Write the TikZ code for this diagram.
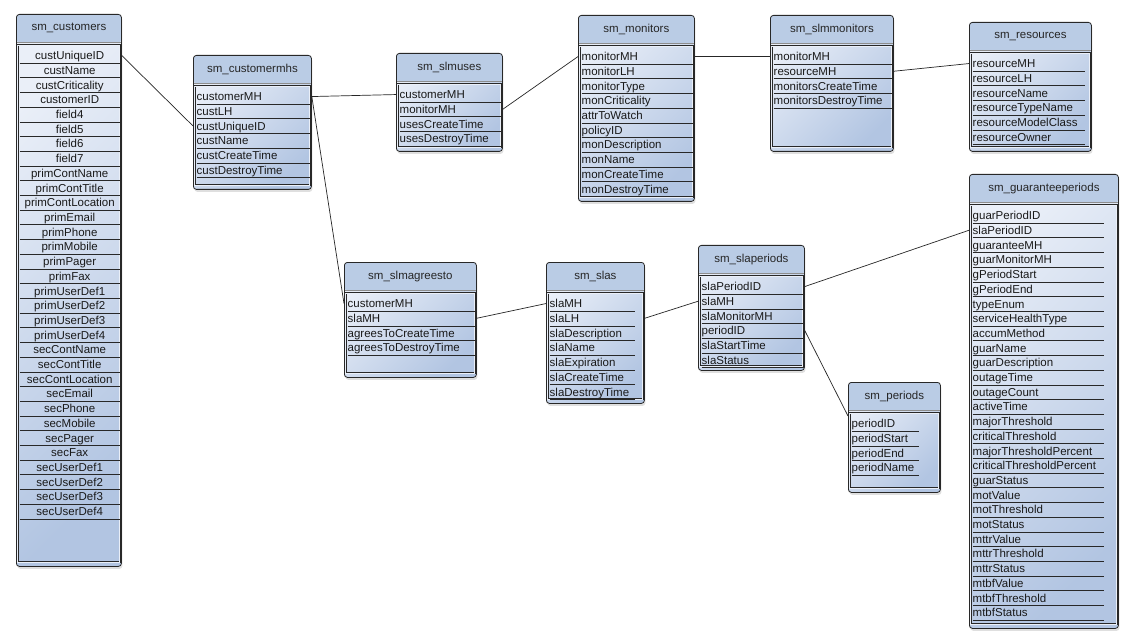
\documentclass[tikz,border=0pt]{standalone}
\usepackage{fontspec}
\setmainfont{Liberation Sans}
\usepackage{tikz}
\usetikzlibrary{shadows}
\usepackage{xcolor}
\definecolor{tabhead}{RGB}{186,204,229}
\definecolor{tabtop}{RGB}{234,239,248}
\definecolor{tabbottom}{RGB}{178,197,226}
\definecolor{tabline}{RGB}{40,40,40}
\tikzstyle{tablebox} = [rectangle, rounded corners=3pt, draw=tabline, line width=0.8pt, shading=axis, top color=tabtop, bottom color=tabbottom, shading angle=45, drop shadow={opacity=0.25, shadow xshift=1pt, shadow yshift=-2.5pt}, path picture={\fill[tabhead] (path picture bounding box.north west) rectangle ([yshift=-28pt]path picture bounding box.north east); \draw[black!45] ([yshift=-28pt]path picture bounding box.north west) -- ([yshift=-28pt]path picture bounding box.north east);}]
\tikzstyle{tablehead} = [rectangle, inner sep=0pt, minimum height=28pt, text=black!85, font=\fontsize{11.5}{13}\selectfont]
\tikzstyle{tablebody} = [rectangle, inner sep=0pt, draw=tabline, line width=0.5pt, double=tabtop, double distance=0.6pt]
\tikzstyle{field} = [rectangle, inner sep=0pt, minimum height=14.7pt, text height=9.5pt, text depth=1pt, anchor=north west, text=black!90, font=\fontsize{11.5}{13}\selectfont]
\tikzstyle{rowline} = [line width=0.6pt, color=tabline]
\tikzstyle{link} = [line width=0.7pt, color=black!85]

% name, top left, width, height, row width, title, alignment, rows
\newcommand{\sqltable}[8]{%
  \node (#1) [tablebox, minimum width=#3pt, minimum height=#4pt, anchor=north west] at (#2) {};
  \node (#1-head) [tablehead, minimum width=#3pt, anchor=north] at (#1.north) {#6};
  \node (#1-body) [tablebody, minimum width=#3pt-3pt, minimum height=#4pt-35pt, anchor=north west] at ([xshift=1.5pt, yshift=-31pt]#1.north west) {};
  \foreach \f [count=\i] in {#8} {
    \node (#1-\i) [field, text width=#5pt, align=#7] at ([xshift=2pt, yshift={-3pt-(\i-1)*14.7pt}]#1-body.north west) {\f};
    \draw[rowline] (#1-\i.south west) -- (#1-\i.south east);
  }%
}

\begin{document}
\begin{tikzpicture}[x=1pt, y=-1pt]
\path[use as bounding box, fill=white] (0,0) rectangle (1134,644);

% Customer side
\sqltable{cu}{16,14}{105}{552}{100}{sm\_customers}{center}{custUniqueID, custName, custCriticality, customerID, field4, field5, field6, field7, primContName, primContTitle, primContLocation, primEmail, primPhone, primMobile, primPager, primFax, primUserDef1, primUserDef2, primUserDef3, primUserDef4, secContName, secContTitle, secContLocation, secEmail, secPhone, secMobile, secPager, secFax, secUserDef1, secUserDef2, secUserDef3, secUserDef4}
\sqltable{cm}{193,55}{118}{134}{114}{sm\_customermhs}{left}{customerMH, custLH, custUniqueID, custName, custCreateTime, custDestroyTime}

% Monitors and resources
\sqltable{su}{396,53}{106}{98}{102}{sm\_slmuses}{left}{customerMH, monitorMH, usesCreateTime, usesDestroyTime}
\sqltable{mo}{578,15}{116}{186}{112}{sm\_monitors}{left}{monitorMH, monitorLH, monitorType, monCriticality, attrToWatch, policyID, monDescription, monName, monCreateTime, monDestroyTime}
\sqltable{sm}{770,15}{123}{136}{119}{sm\_slmmonitors}{left}{monitorMH, resourceMH, monitorsCreateTime, monitorsDestroyTime}
\sqltable{re}{969,22}{122}{129}{112}{sm\_resources}{left}{resourceMH, resourceLH, resourceName, resourceTypeName, resourceModelClass, resourceOwner}

% SLAs and periods
\sqltable{sa}{344,262}{132}{115}{128}{sm\_slmagreesto}{left}{customerMH, slaMH, agreesToCreateTime, agreesToDestroyTime}
\sqltable{sl}{546,262}{98}{141}{85}{sm\_slas}{left}{slaMH, slaLH, slaDescription, slaName, slaExpiration, slaCreateTime, slaDestroyTime}
\sqltable{sp}{698,245}{106}{125}{102}{sm\_slaperiods}{left}{slaPeriodID, slaMH, slaMonitorMH, periodID, slaStartTime, slaStatus}
\sqltable{pe}{848,382}{92}{110}{67}{sm\_periods}{left}{periodID, periodStart, periodEnd, periodName}
\sqltable{gp}{969,174}{149}{454}{131}{sm\_guaranteeperiods}{left}{guarPeriodID, slaPeriodID, guaranteeMH, guarMonitorMH, gPeriodStart, gPeriodEnd, typeEnum, serviceHealthType, accumMethod, guarName, guarDescription, outageTime, outageCount, activeTime, majorThreshold, criticalThreshold, majorThresholdPercent, criticalThresholdPercent, guarStatus, motValue, motThreshold, motStatus, mttrValue, mttrThreshold, mttrStatus, mtbfValue, mtbfThreshold, mtbfStatus}

% Links
\draw[link] (cu-1.east -| cu.east) -- (cm-3.west -| cm.west);
\draw[link] (cm-1.east -| cm.east) -- (su-1.west -| su.west);
\draw[link] (cm-1.east -| cm.east) -- (sa-1.west -| sa.west);
\draw[link] (su-2.east -| su.east) -- (mo-1.west -| mo.west);
\draw[link] (mo-1.east -| mo.east) -- (sm-1.west -| sm.west);
\draw[link] (sm-2.east -| sm.east) -- (re-1.west -| re.west);
\draw[link] (sa-2.east -| sa.east) -- (sl-1.west -| sl.west);
\draw[link] (sl-2.east -| sl.east) -- (sp-2.west -| sp.west);
\draw[link] (sp-1.east -| sp.east) -- (gp-2.west -| gp.west);
\draw[link] (sp-4.east -| sp.east) -- (pe-1.north -| pe.west);
\end{tikzpicture}
\end{document}
